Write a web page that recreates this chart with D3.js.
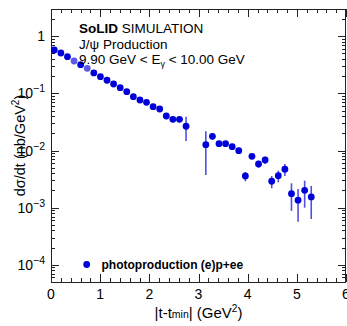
<!DOCTYPE html>
<html><head><meta charset="utf-8">
<script src="https://cdn.jsdelivr.net/npm/d3@7"></script>
<style>
html,body{margin:0;padding:0;background:#fff;}
svg{display:block;font-family:"Liberation Sans",Arial,Helvetica,sans-serif;}
</style></head>
<body>
<svg id="c" width="347" height="326"></svg>
<script>
// |t - tmin| bin centres (GeV^2)
const tVals = [0.067,0.201,0.335,0.469,0.603,0.737,0.871,1.005,1.139,1.273,1.407,1.541,1.675,1.809,1.943,2.077,2.211,2.345,2.479,2.613,2.747,
  3.149,3.283,3.417,3.551,3.685,3.819,3.953,4.087,4.221,4.355,4.489,4.623,4.757,4.891,5.025,5.159,5.293];
// dsigma/dt (nb/GeV^2)
const xsec = [0.575,0.509,0.439,0.369,0.318,0.275,0.228,0.196,0.170,0.146,0.126,0.107,0.0876,0.0767,0.0699,0.0585,0.0533,0.0402,0.0352,0.0352,0.0266,
  0.01266,0.01776,0.01318,0.01318,0.01167,0.00993,0.00358,0.00793,0.00582,0.00683,0.0029,0.00363,0.0047,0.00176,0.00135,0.00201,0.00154];
// error bar ends
const errLo = [0.56,0.495,0.427,0.358,0.308,0.266,0.22,0.189,0.163,0.14,0.12,0.102,0.083,0.072,0.0655,0.0545,0.0495,0.0368,0.032,0.032,0.0147,
  0.00373,0.0155,0.0118,0.0118,0.0104,0.0088,0.0029,0.0071,0.00495,0.00582,0.00218,0.00278,0.00358,0.000876,0.000569,0.001,0.000634];
const errHi = [0.59,0.523,0.451,0.38,0.328,0.284,0.236,0.203,0.177,0.152,0.132,0.112,0.092,0.081,0.0743,0.0625,0.0571,0.0436,0.0384,0.0384,0.0391,
  0.0217,0.0203,0.0147,0.0147,0.0131,0.0112,0.00421,0.0089,0.00664,0.0078,0.00358,0.00444,0.00582,0.00267,0.00212,0.00297,0.0024];
const xTicks = [0,1,2,3,4,5,6];
const yDecades = [-4,-3,-2,-1,0];
const seriesLabel = "photoproduction (e)p+ee";

const svg = d3.select("#c");
const L = 51, R = 346, T = 9, B = 282;
const x = d3.scaleLinear().domain([0,6]).range([L,R]);
const y = d3.scaleLog().domain([5e-5,3]).range([B,T]);
const axisCol = "#222";

// minor ticks
const xMinor = d3.range(0,6.001,0.2).map(v=>+v.toFixed(2));
const yMinor = [];
for (let e=-5;e<=0;e++) for (let m=1;m<=9;m++){const v=m*Math.pow(10,e); if(v>=5e-5 && v<=3) yMinor.push(v);}

const g = svg.append("g");
// bottom & top x axes
function xAxisLines(ypos, dir){
  g.selectAll(null).data(xMinor).enter().append("line")
    .attr("x1",d=>Math.round(x(d))+0.5).attr("x2",d=>Math.round(x(d))+0.5)
    .attr("y1",ypos).attr("y2",d=>ypos+dir*(Math.abs(d-Math.round(d))<1e-6?8:4))
    .attr("stroke",axisCol).attr("stroke-width",1);
}
xAxisLines(B, -1); xAxisLines(T, 1);
function yAxisLines(xpos, dir){
  g.selectAll(null).data(yMinor).enter().append("line")
    .attr("y1",d=>Math.round(y(d))+0.5).attr("y2",d=>Math.round(y(d))+0.5)
    .attr("x1",xpos).attr("x2",d=>{const l=Math.log10(d);return xpos+dir*(Math.abs(l-Math.round(l))<1e-6?8:4);})
    .attr("stroke",axisCol).attr("stroke-width",1);
}
yAxisLines(L, 1); yAxisLines(R, -1);
// frame
g.append("rect").attr("x",L+0.5).attr("y",T+0.5).attr("width",R-L-1).attr("height",B-T)
  .attr("fill","none").attr("stroke",axisCol).attr("stroke-width",1);

// x tick labels
g.selectAll(null).data(xTicks).enter().append("text")
  .attr("x",d=>x(d)).attr("y",B+17).attr("text-anchor","middle")
  .attr("font-size",14).attr("fill","#000").text(d=>d);
// y tick labels
yDecades.forEach(e=>{
  const t = g.append("text").attr("x",L-6).attr("y",y(Math.pow(10,e))+5)
    .attr("text-anchor","end").attr("font-size",14).attr("fill","#000");
  if(e===0){ t.text("1"); }
  else { t.append("tspan").text("10"); t.append("tspan").attr("dy",-6).attr("font-size",10.5).text("\u2212"+(-e)); }
});

// axis titles
const xt = g.append("text").attr("x",(L+R)/2).attr("y",318).attr("text-anchor","middle").attr("font-size",15).attr("fill","#000");
xt.append("tspan").text("|t-t");
xt.append("tspan").attr("font-size",10.5).text("min");
xt.append("tspan").attr("font-size",15).text("| (GeV");
xt.append("tspan").attr("dy",-6).attr("font-size",10).text("2");
xt.append("tspan").attr("dy",6).attr("font-size",15).text(")");

const yt = g.append("text").attr("transform",`translate(25,${(T+B)/2}) rotate(-90)`)
  .attr("text-anchor","middle").attr("font-size",14.5).attr("fill","#000");
yt.append("tspan").text("d\u03c3/dt (nb/GeV");
yt.append("tspan").attr("dy",-6).attr("font-size",10).text("2");
yt.append("tspan").attr("dy",6).attr("font-size",14.5).text(")");

// data
const data = tVals.map((t,i)=>({t, v:xsec[i], lo:errLo[i], hi:errHi[i], i}));
const faded = new Set([3,5]);
const dg = svg.append("g");
dg.selectAll(null).data(data).enter().append("line")
  .attr("x1",d=>x(d.t)).attr("x2",d=>x(d.t))
  .attr("y1",d=>y(d.lo)).attr("y2",d=>y(d.hi))
  .attr("stroke","#2222dd").attr("stroke-opacity",0.8).attr("stroke-width",1.6);
dg.selectAll(null).data(data).enter().append("circle")
  .attr("cx",d=>x(d.t)).attr("cy",d=>y(d.v)).attr("r",3.4)
  .attr("fill",d=>faded.has(d.i)?"#5a5ae6":"#0000d8");

// texts
const tx = 79;
const t1 = svg.append("text").attr("x",tx).attr("y",33).attr("font-size",13.5).attr("fill","#000");
t1.append("tspan").attr("font-weight","bold").text("SoLID");
t1.append("tspan").text(" SIMULATION");
svg.append("text").attr("x",tx).attr("y",48.5).attr("font-size",13.5).attr("fill","#000").text("J/\u03c8 Production");
const t3 = svg.append("text").attr("x",tx).attr("y",64).attr("font-size",13.5).attr("fill","#000");
t3.append("tspan").text("9.90 GeV < E");
t3.append("tspan").attr("dy",3).attr("font-size",9).text("\u03b3");
t3.append("tspan").attr("dy",-3).attr("font-size",13.5).text(" < 10.00 GeV");

// legend
svg.append("circle").attr("cx",86.7).attr("cy",264.5).attr("r",3.4).attr("fill","#0000d8");
svg.append("text").attr("x",101.5).attr("y",268.5).attr("font-size",12).attr("font-weight","bold").attr("fill","#000").text(seriesLabel);
</script>
</body></html>
